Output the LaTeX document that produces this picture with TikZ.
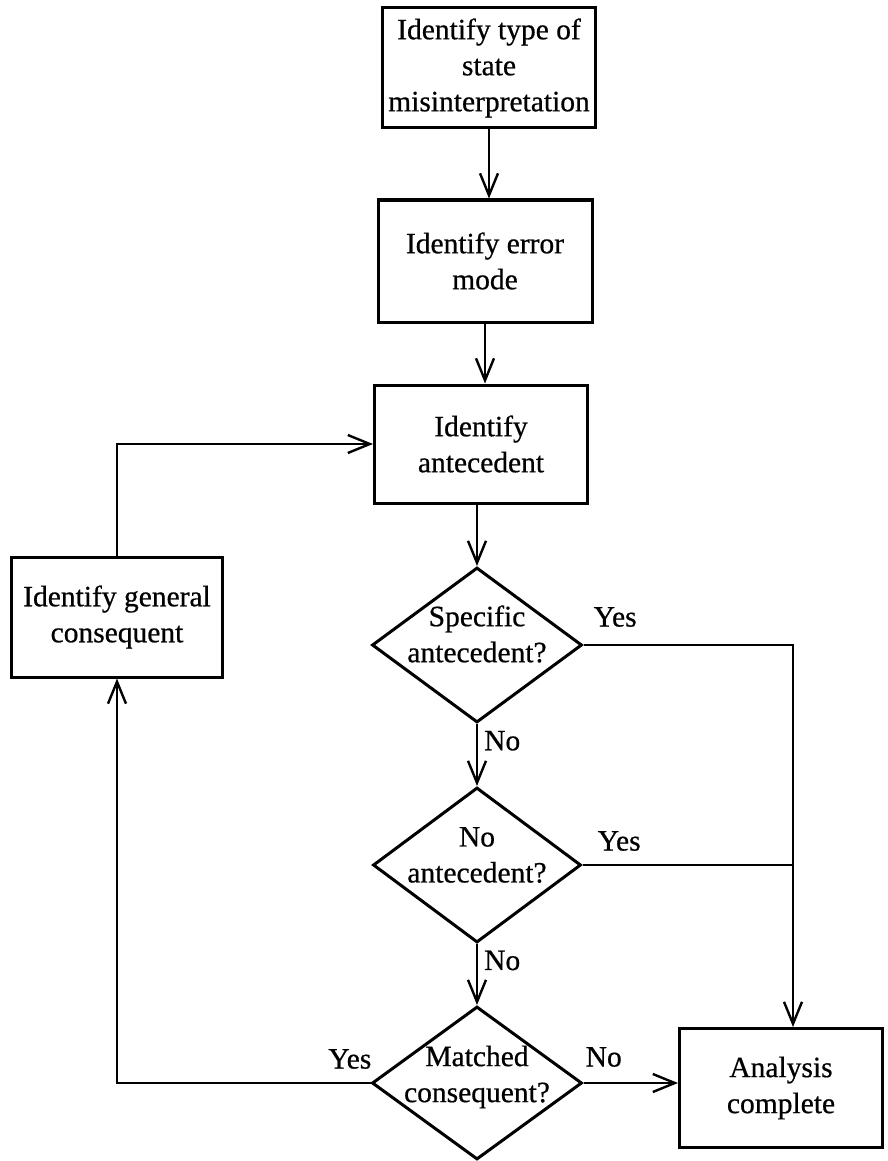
\documentclass[tikz,border=0pt]{standalone}
\usepackage{fontspec}
\setmainfont[FakeBold=0.6]{Liberation Serif}
\usetikzlibrary{shapes.geometric,arrows.meta}

\begin{document}
\begin{tikzpicture}[x=1pt,y=-1pt,
  every node/.style={font=\fontsize{29.5}{36}\selectfont},
  stepbox/.style={draw,line width=3pt,align=center,inner sep=0pt},
  decision/.style={draw,diamond,line width=3pt,inner sep=0pt,minimum width=210pt,minimum height=155pt},
  txt/.style={align=center,inner sep=0pt},
  ln/.style={line width=2.4pt},
  arr/.style={ln,-{Straight Barb[length=22pt,width=18pt]}},
  lbl/.style={inner sep=0pt}]
  \useasboundingbox (0,0) rectangle (887,1161);
  % boxes
  \node[stepbox,minimum width=213pt,minimum height=120pt] (state) at (489,68) {Identify type of\\state\\misinterpretation};
  \node[stepbox,minimum width=214pt,minimum height=122pt] (mode) at (485,261) {Identify error\\mode};
  \node[stepbox,minimum width=213pt,minimum height=118pt] (ante) at (481,444) {Identify\\antecedent};
  \node[stepbox,minimum width=211pt,minimum height=120pt] (gencons) at (117,617) {Identify general\\consequent};
  \node[stepbox,minimum width=203pt,minimum height=119pt] (done) at (781,1088) {Analysis\\complete};
  % decisions
  \node[decision] (spec) at (477,645) {};
  \node[txt] (spect) at ([yshift=11pt]spec.center) {Specific\\antecedent?};
  \node[decision,minimum width=208pt] (none) at (477,865) {};
  \node[txt] (nonet) at ([yshift=10pt]none.center) {No\\antecedent?};
  \node[decision,minimum height=153pt] (match) at (477,1083) {};
  \node[txt] (matcht) at ([yshift=6pt]match.center) {Matched\\consequent?};
  \coordinate (rail) at (793,645);
  % connectors
  \draw[arr] (state.south) -- (state.south |- mode.north);
  \draw[arr] (mode.south) -- (mode.south |- ante.north);
  \draw[arr] (spec.north |- ante.south) -- (spec.north);
  \draw[arr] (spec.south) -- node[lbl,pos=0.27,anchor=west,xshift=6pt] (no1) {No} (none.north);
  \draw[arr] (none.south) -- node[lbl,pos=0.27,anchor=west,xshift=6pt] (no2) {No} (match.north);
  \draw[arr] (spec.east) -- node[lbl,at start,anchor=south west,xshift=9pt,yshift=17pt] (yes1) {Yes} (rail) -- (rail |- done.north);
  \draw[ln] (none.east) -- node[lbl,at start,anchor=south west,xshift=14pt,yshift=13pt] (yes2) {Yes} (none.east -| rail);
  \draw[arr] (match.east) -- node[lbl,at start,anchor=south west,xshift=1pt,yshift=15pt] (no3) {No} (match.east -| done.west);
  \draw[arr] (match.west) -- node[lbl,at start,anchor=south east,xshift=2pt,yshift=13pt] (yes3) {Yes} (match.west -| gencons.south) -- (gencons.south);
  \draw[arr] (gencons.north) |- (ante.west);
\end{tikzpicture}
\end{document}
